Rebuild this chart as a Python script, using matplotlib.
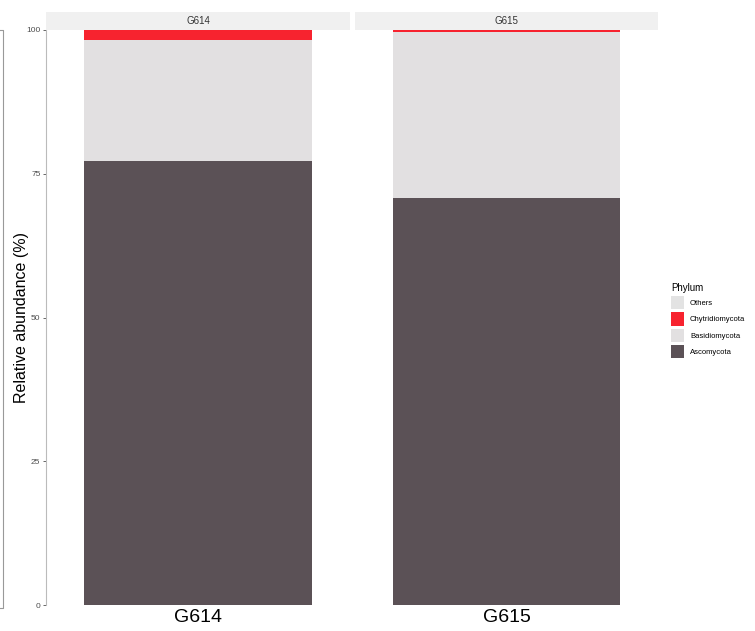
import numpy as np
import matplotlib.pyplot as plt
from matplotlib.patches import Patch
from matplotlib.lines import Line2D

plt.rcParams['font.family'] = ['Liberation Sans', 'DejaVu Sans']

# relative abundance (%) per sample, stacked bottom -> top
samples = ["G614", "G615"]
phyla = ["Ascomycota", "Basidiomycota", "Chytridiomycota", "Others"]
ascomycota = [77.2, 70.8]
basidiomycota = [21.0, 28.9]
chytridiomycota = [1.8, 0.3]
others = [0.0, 0.0]
colors = {"Ascomycota": "#5b5156", "Basidiomycota": "#e2e0e1",
          "Chytridiomycota": "#f7232f", "Others": "#e3e3e3"}

values = {"Ascomycota": ascomycota, "Basidiomycota": basidiomycota,
          "Chytridiomycota": chytridiomycota, "Others": others}

fig = plt.figure(figsize=(7.55, 6.31), dpi=100)
W, H = 755.0, 631.0
panels = [(46, 350), (355, 658)]
top, bottom = 30, 605

for i, (s, (x0, x1)) in enumerate(zip(samples, panels)):
    ax = fig.add_axes([x0 / W, 1 - bottom / H, (x1 - x0) / W, (bottom - top) / H])
    base = 0
    for p in phyla:
        v = values[p][i]
        ax.bar(1, v, width=0.9, bottom=base, color=colors[p], linewidth=0)
        base += v
    ax.set_xlim(0.4, 1.6)
    ax.set_ylim(0, 100)
    ax.set_xticks([1])
    ax.set_xticklabels([s], fontsize=14, color="black")
    ax.tick_params(axis="x", length=0, pad=3)
    for sp in ["top", "right", "bottom"]:
        ax.spines[sp].set_visible(False)
    if i == 0:
        ax.set_yticks([0, 25, 50, 75, 100])
        ax.tick_params(axis="y", labelsize=6, colors="#4d4d4d", length=2.5, width=0.6, pad=1.5)
        ax.spines["left"].set_color("#bbbbbb")
        ax.spines["left"].set_linewidth(0.8)
        ax.set_ylabel("Relative abundance (%)", fontsize=11.5)
        ax.yaxis.set_label_coords(-17 / (x1 - x0), 0.5)
    else:
        ax.set_yticks([])
        ax.spines["left"].set_visible(False)
    # facet strip
    strip = fig.add_axes([x0 / W, 1 - top / H, (x1 - x0) / W, 18 / H])
    strip.set_facecolor("#f0f0f0")
    strip.set_xticks([])
    strip.set_yticks([])
    for sp in strip.spines.values():
        sp.set_visible(False)
    strip.text(0.5, 0.5, s, ha="center", va="center", fontsize=7, color="#333333",
               transform=strip.transAxes)

# bracket on the far left
fig.add_artist(Line2D([0 / W, 3 / W, 3 / W, 0 / W],
                      [1 - 30 / H, 1 - 30 / H, 1 - 608 / H, 1 - 608 / H],
                      color="#999999", linewidth=0.8, transform=fig.transFigure))

handles = [Patch(facecolor=colors[p], edgecolor="none") for p in phyla[::-1]]
fig.legend(handles, phyla[::-1], title="Phylum", loc="upper left",
           bbox_to_anchor=(664 / W, 1 - 276 / H), frameon=False,
           fontsize=5.5, title_fontsize=7, handlelength=1.7, handleheight=2.3,
           handletextpad=0.8, labelspacing=0.4, alignment="left")

fig.savefig("out.png", dpi=100)
